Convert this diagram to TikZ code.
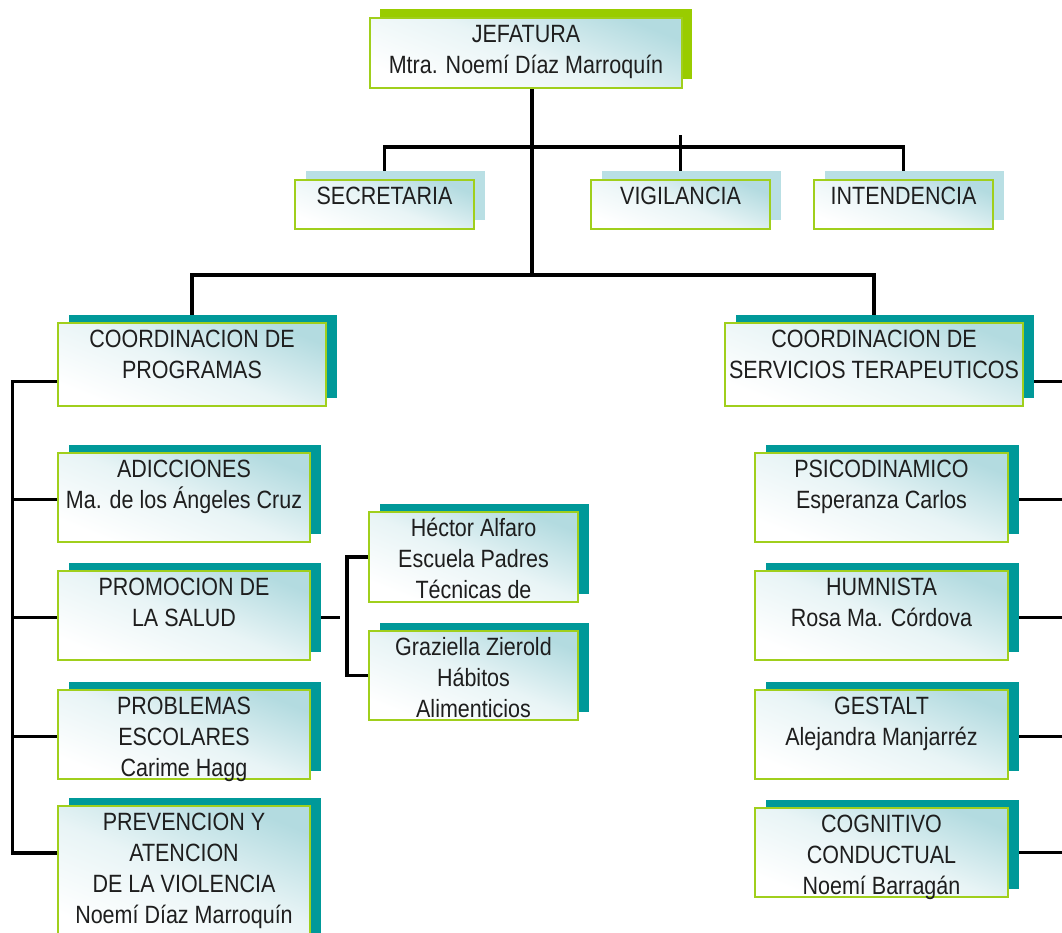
\documentclass[tikz,border=0pt]{standalone}
\usepackage{fontspec}
\setmainfont[FakeStretch=0.86]{Liberation Sans}
\usetikzlibrary{shadows,backgrounds,calc}

\definecolor{leafgreen}{HTML}{99CC00}
\definecolor{cardedge}{HTML}{A0CF1C}
\definecolor{cardblue}{HTML}{B3DBE0}
\definecolor{paleshadow}{HTML}{B9DFE4}
\definecolor{tealshadow}{HTML}{009999}
\definecolor{inktext}{HTML}{1E1E1E}

% one drawing unit = one pixel of the chart
\newlength\unitpx
\setlength\unitpx{0.75pt}
% card contents: width, height (in px), lines of text set from the top
\newcommand\cardtext[3]{\parbox[c][#2\unitpx][t]{#1\unitpx}{\centering\rule{0pt}{24\unitpx}#3}}

\tikzset{
  card/.style={draw=cardedge, line width=1.5pt, inner sep=0pt, outer sep=0pt,
    anchor=north west, text=inktext,
    font=\fontsize{18.75pt}{23.25pt}\selectfont,
    top color=cardblue, bottom color=white, middle color=cardblue!30!white,
    shading angle=-22},
  headcard/.style={card, drop shadow={shadow xshift=7.5pt, shadow yshift=6.75pt,
    fill=leafgreen, opacity=1}},
  palecard/.style={card, drop shadow={shadow xshift=8pt, shadow yshift=6.4pt,
    fill=paleshadow, opacity=1}},
  tealcard/.style={card, drop shadow={shadow xshift=8pt, shadow yshift=6pt,
    fill=tealshadow, opacity=1}},
  wire/.style={line width=2.7pt, black}
}

\begin{document}
\begin{tikzpicture}[x=0.75pt, y=-0.75pt]
\useasboundingbox (0,0) rectangle (1062,932);

% top level
\node[headcard] (jef) at (370,18) {\cardtext{312}{70}{JEFATURA\\Mtra. Noemí Díaz Marroquín}};

% staff
\node[palecard] (secr)  at (295,180) {\cardtext{179}{49}{SECRETARIA}};
\node[palecard] (vig)   at (591,180) {\cardtext{179}{49}{VIGILANCIA}};
\node[palecard] (inten) at (814,180) {\cardtext{179}{49}{INTENDENCIA}};

% coordinations
\node[tealcard] (cprog) at (58,323)  {\cardtext{268}{83}{COORDINACION DE\\PROGRAMAS}};
\node[tealcard] (cserv) at (725,323) {\cardtext{298}{83}{COORDINACION DE\\SERVICIOS TERAPEUTICOS}};

% programmes
\node[tealcard] (adic) at (58,453) {\cardtext{252}{89}{ADICCIONES\\Ma. de los Ángeles Cruz}};
\node[tealcard] (prom) at (58,571) {\cardtext{252}{89}{PROMOCION DE\\LA SALUD}};
\node[tealcard] (prob) at (58,690) {\cardtext{252}{89}{PROBLEMAS\\ESCOLARES\\Carime Hagg}};
\node[tealcard] (prev) at (58,806) {\cardtext{252}{135}{PREVENCION Y\\ATENCION\\DE LA VIOLENCIA\\Noemí Díaz Marroquín}};

% health promotion teams
\node[tealcard] (hect) at (369,512) {\cardtext{209}{90}{Héctor Alfaro\\Escuela Padres\\Técnicas de}};
\node[tealcard] (graz) at (369,631) {\cardtext{209}{89}{Graziella Zierold\\Hábitos\\Alimenticios}};

% therapeutic services
\node[tealcard] (psico) at (755,453) {\cardtext{253}{89}{PSICODINAMICO\\Esperanza Carlos}};
\node[tealcard] (humn)  at (755,571) {\cardtext{253}{89}{HUMNISTA\\Rosa Ma. Córdova}};
\node[tealcard] (gest)  at (755,690) {\cardtext{253}{89}{GESTALT\\Alejandra Manjarréz}};
\node[tealcard] (cogn)  at (755,808) {\cardtext{253}{89}{COGNITIVO\\CONDUCTUAL\\Noemí Barragán}};

% connectors
\begin{scope}[on background layer]
  \coordinate (hubA) at (532,147);
  \coordinate (hubB) at (532,275);
  \coordinate (lspine) at (12.5,0);
  \coordinate (redge) at (1075,0);
  \coordinate (progport) at ($(cprog.west)+(0,17)$);
  \coordinate (servport) at ($(cserv.east)+(0,17)$);
  \coordinate (prevport) at ($(prev.north west)+(0,47)$);
  \coordinate (promstub) at ($(prom.east)+(30,2)$);

  \draw[wire] (jef.south -| hubB) -- (hubB);
  \draw[wire] (secr.north) |- (hubA) -| (inten.north);
  \draw[wire] (vig.north) -- ++(0,-45);
  \draw[wire] (cprog.north) |- (hubB) -| (cserv.north);

  \draw[wire] (progport) -- (progport -| lspine) |- (prevport);
  \draw[wire] ($(adic.west)+(0,2)$) -- ++(-46,0);
  \draw[wire] ($(prom.west)+(0,2)$) -- ++(-46,0);
  \draw[wire] ($(prob.west)+(0,2)$) -- ++(-46,0);

  \draw[wire] ($(prom.east)+(0,2)$) -- (promstub);
  \draw[wire] (hect.west) -- ++(-22,0) |- (graz.west);

  \draw[wire] (servport) -- (servport -| redge);
  \draw[wire] ($(psico.east)+(0,2)$) -- ++(70,0);
  \draw[wire] ($(humn.east)+(0,2)$) -- ++(70,0);
  \draw[wire] ($(gest.east)+(0,2)$) -- ++(70,0);
  \draw[wire] (cogn.east) -- ++(70,0);
\end{scope}
\end{tikzpicture}
\end{document}
